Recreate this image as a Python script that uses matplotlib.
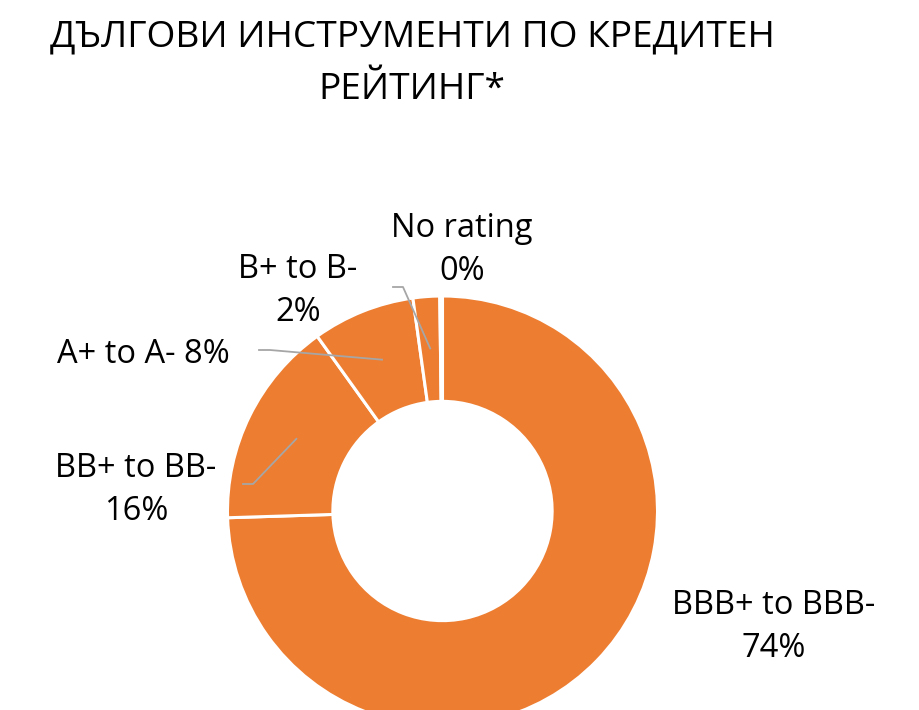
import numpy as np
import matplotlib.pyplot as plt

plt.rcParams['font.family'] = ['Open Sans', 'DejaVu Sans']

# данни
categories = ["BBB+ to BBB-", "BB+ to BB-", "A+ to A-", "B+ to B-", "No rating"]
values = [74.5, 15.6, 7.7, 2.0, 0.2]
title = "ДЪЛГОВИ ИНСТРУМЕНТИ ПО КРЕДИТЕН\nРЕЙТИНГ*"

W, H = 920, 710
cx, cy, R = 442.5, 511, 215  # център и радиус в пиксели


def p2d(px, py):
    # пиксели (от горе вляво) -> данни
    return (px - cx) / R, (cy - py) / R


fig = plt.figure(figsize=(W / 100, H / 100), dpi=100)
ax = fig.add_axes([0, 0, 1, 1])

wedges, _ = ax.pie(values, startangle=90, counterclock=False, radius=1,
                   colors=["#ED7D31"] * len(values),
                   wedgeprops=dict(width=0.49, edgecolor="white", linewidth=2.2))

ax.set_xlim(-cx / R, (W - cx) / R)
ax.set_ylim(-(H - cy) / R, cy / R)
ax.set_aspect("equal")
ax.axis("off")

fs = 23.5
ls = 1.4
lbl = [f"{c}\n{round(v)}%" for c, v in zip(categories, values)]

# етикети
ax.text(*p2d(774, 627), lbl[0], ha="center", va="center", fontsize=fs, linespacing=ls)
ax.text(*p2d(136, 490), lbl[1], ha="center", va="center", fontsize=fs, linespacing=ls)
ax.text(*p2d(143, 355), f"{categories[2]} {round(values[2])}%", ha="center", va="center", fontsize=fs)
ax.text(*p2d(298, 291), lbl[3], ha="center", va="center", fontsize=fs, linespacing=ls)
ax.text(*p2d(462, 250), lbl[4], ha="center", va="center", fontsize=fs, linespacing=ls)

# водещи линии
starts = {1: (243, 484, 253), 2: (259, 350, 270), 3: (393, 287, 403)}
for i, (x0, y0, x1) in starts.items():
    w = wedges[i]
    mid = np.deg2rad((w.theta1 + w.theta2) / 2)
    ex, ey = 0.758 * np.cos(mid), 0.758 * np.sin(mid)
    a = p2d(x0, y0)
    b = p2d(x1, y0)
    ax.plot([a[0], b[0], ex], [a[1], b[1], ey], color="#A6A6A6", lw=1.3)

fig.text(412 / W, 1 - 64 / H, title, ha="center", va="center", fontsize=26.7, linespacing=1.62)

plt.savefig("out.png", dpi=100)
